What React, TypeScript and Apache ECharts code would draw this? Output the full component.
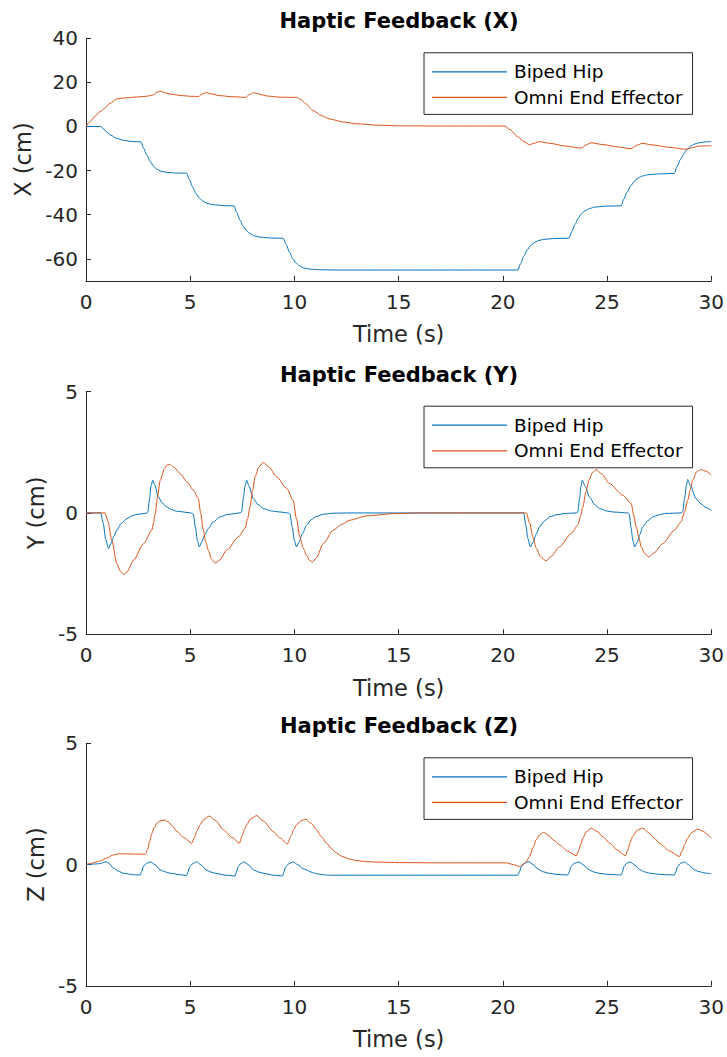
import React, { useEffect, useRef } from "react";
import * as echarts from "echarts";

const seriesNames = ["Biped Hip", "Omni End Effector"];
const titles = ["Haptic Feedback (X)", "Haptic Feedback (Y)", "Haptic Feedback (Z)"];
const yNames = ["X (cm)", "Y (cm)", "Z (cm)"];
const xName = "Time (s)";
const xTicks = [0, 5, 10, 15, 20, 25, 30];
const yTicksX = [-60, -40, -20, 0, 20, 40];
const yTicksYZ = [-5, 0, 5];
const yRanges = [[-70, 40], [-5, 5], [-5, 5]];

const hipX = [
  [0, 0], [0.71, 0], [0.85, -1.2], [1.0, -2.6], [1.2, -4.0], [1.45, -5.3], [1.8, -6.3], [2.2, -6.8], [2.63, -7.0],
  [2.76, -9.8], [2.92, -13], [3.08, -15.9], [3.24, -18], [3.4, -19.4], [3.6, -20.3], [3.88, -20.8], [4.3, -21.1], [4.83, -21.2],
  [4.96, -24], [5.12, -27.5], [5.28, -30.5], [5.44, -32.5], [5.6, -33.8], [5.8, -34.8], [6.1, -35.5], [6.6, -35.9], [7.1, -36],
  [7.23, -39], [7.39, -42.5], [7.55, -45.3], [7.71, -47.3], [7.87, -48.6], [8.07, -49.6], [8.35, -50.2], [8.9, -50.6], [9.46, -50.7],
  [9.6, -53.5], [9.76, -57], [9.92, -60], [10.08, -62], [10.25, -63.3], [10.45, -64.2], [10.75, -64.7], [11.2, -65], [12, -65.1], [20.72, -65.1],
  [20.85, -62.3], [21.0, -59], [21.17, -56], [21.33, -54], [21.5, -52.7], [21.7, -51.8], [21.95, -51.2], [22.5, -50.8], [23.17, -50.7],
  [23.3, -47.8], [23.46, -44.5], [23.62, -41.6], [23.78, -39.5], [23.95, -38.2], [24.15, -37.2], [24.45, -36.5], [25, -36.1], [25.68, -36],
  [25.8, -33], [25.96, -29.8], [26.13, -27], [26.29, -25], [26.45, -23.6], [26.65, -22.6], [26.95, -21.9], [27.5, -21.5], [28.23, -21.3],
  [28.35, -18.3], [28.52, -15], [28.7, -12.2], [28.85, -10.2], [29.0, -8.9], [29.2, -8.0], [29.4, -7.4], [29.7, -7.0], [30, -6.8],
];

const omniX = [
  [0, 0], [0.2, 2.2], [0.45, 4.8], [0.68, 6.8], [0.9, 8.3], [1.15, 10.5], [1.48, 12.5], [1.8, 12.9], [2.3, 13.3], [2.9, 13.7],
  [3.2, 14.2], [3.4, 15.5], [3.56, 16.1], [3.75, 15.4], [4.1, 14.6], [4.6, 14], [5.0, 13.7], [5.39, 13.6], [5.6, 14.8], [5.79, 15.4],
  [6.0, 14.8], [6.4, 14], [7.0, 13.5], [7.66, 13.2], [7.85, 14.5], [8.03, 15.3], [8.25, 14.8], [8.7, 13.8], [9.3, 13.3], [10.1, 13.2],
  [10.3, 12.3], [10.55, 10.2], [10.9, 7.2], [11.3, 4.9], [11.7, 3.4], [12.3, 2.1], [13, 1.2], [14, 0.6], [15, 0.3], [17, 0.2], [20.09, 0.2],
  [20.35, -1.5], [20.7, -4.5], [21.0, -6.8], [21.28, -8.3], [21.5, -7.6], [21.76, -6.9], [22.3, -7.7], [23.0, -8.9], [23.76, -9.8],
  [24.0, -8.3], [24.24, -7.4], [24.8, -8.2], [25.5, -9.3], [26.15, -10.1], [26.4, -8.6], [26.68, -7.7], [27.3, -8.5], [28.0, -9.5],
  [28.79, -10.3], [29.1, -9.6], [29.4, -8.9], [29.7, -8.8], [30, -8.7],
];

const hipY = [
  [0, 0], [0.71, 0], [0.82, -0.4], [0.95, -1.1], [1.08, -1.47], [1.2, -1.25], [1.35, -0.95], [1.48, -0.71], [1.7, -0.42], [1.96, -0.23],
  [2.2, -0.12], [2.44, -0.06], [2.92, -0.01], [2.97, 0.05], [3.05, 0.6], [3.12, 1.1], [3.2, 1.35], [3.3, 1.15], [3.47, 0.66], [3.65, 0.42],
  [3.87, 0.25], [4.1, 0.14], [4.35, 0.07], [4.99, 0.01], [5.15, -0.05], [5.25, -0.6], [5.35, -1.15], [5.44, -1.4], [5.55, -1.2], [5.7, -0.9],
  [5.87, -0.64], [6.1, -0.38], [6.43, -0.16], [6.8, -0.06], [7.39, 0], [7.47, 0.05], [7.55, 0.6], [7.63, 1.1], [7.71, 1.35], [7.82, 1.1],
  [8.03, 0.59], [8.25, 0.35], [8.51, 0.18], [8.9, 0.08], [9.31, 0.04], [9.71, 0], [9.79, -0.05], [9.9, -0.6], [10.0, -1.15], [10.1, -1.4],
  [10.22, -1.2], [10.38, -0.86], [10.58, -0.51], [10.8, -0.28], [11.06, -0.14], [11.4, -0.05], [11.86, -0.01], [12.5, 0], [21.0, 0],
  [21.1, -0.5], [21.2, -1.05], [21.32, -1.4], [21.45, -1.2], [21.6, -0.88], [21.76, -0.57], [22.0, -0.33], [22.24, -0.16], [22.6, -0.07],
  [23.04, -0.02], [23.52, 0], [23.6, 0.05], [23.68, 0.6], [23.75, 1.1], [23.81, 1.35], [23.95, 1.1], [24.16, 0.66], [24.4, 0.35],
  [24.64, 0.18], [25.0, 0.08], [25.28, 0.04], [26.0, 0], [26.06, -0.05], [26.15, -0.6], [26.24, -1.15], [26.32, -1.4], [26.45, -1.2],
  [26.58, -0.88], [26.71, -0.57], [26.95, -0.33], [27.19, -0.16], [27.5, -0.07], [27.83, -0.02], [28.55, 0], [28.63, 0.05], [28.72, 0.6],
  [28.8, 1.1], [28.87, 1.38], [29.0, 1.12], [29.27, 0.59], [29.5, 0.38], [29.75, 0.22], [30, 0.11],
];

const omniY = [
  [0, 0], [0.92, 0], [1.05, -0.35], [1.24, -1.13], [1.48, -2.09], [1.65, -2.4], [1.8, -2.53], [1.95, -2.45], [2.28, -1.95], [2.76, -1.27],
  [3.16, -0.71], [3.24, -0.4], [3.32, -0.03], [3.44, 0.7], [3.56, 1.35], [3.75, 1.8], [3.88, 1.97], [4.0, 2.01], [4.2, 1.9], [4.51, 1.63],
  [4.85, 1.28], [5.15, 0.94], [5.39, 0.59], [5.5, 0.0], [5.63, -0.71], [5.75, -1.2], [5.87, -1.54], [6.02, -1.9], [6.19, -2.07], [6.4, -1.95],
  [6.75, -1.54], [7.31, -0.99], [7.63, -0.64], [7.75, -0.25], [7.87, 0.25], [7.99, 0.9], [8.11, 1.49], [8.3, 1.9], [8.5, 2.08], [8.75, 1.92],
  [9.15, 1.49], [9.63, 1.01], [9.94, 0.52], [10.1, -0.25], [10.26, -0.99], [10.42, -1.45], [10.58, -1.74], [10.72, -1.95], [10.87, -2.02],
  [11.05, -1.85], [11.38, -1.27], [11.86, -0.71], [12.25, -0.48], [12.66, -0.3], [13.46, -0.12], [14.74, -0.03], [16, 0], [21.13, 0],
  [21.28, -0.4], [21.44, -0.99], [21.6, -1.45], [21.8, -1.8], [22.08, -1.98], [22.3, -1.8], [22.72, -1.4], [23.28, -0.85], [23.6, -0.5],
  [23.72, -0.15], [23.84, 0.25], [23.98, 0.85], [24.13, 1.35], [24.3, 1.67], [24.48, 1.79], [24.75, 1.6], [25.12, 1.21], [25.76, 0.73],
  [26.16, 0.39], [26.28, -0.1], [26.4, -0.57], [26.52, -1.0], [26.64, -1.4], [26.8, -1.67], [27.0, -1.82], [27.25, -1.65], [27.67, -1.27],
  [28.23, -0.71], [28.55, -0.37], [28.72, 0.05], [28.87, 0.52], [28.99, 0.95], [29.11, 1.35], [29.3, 1.7], [29.48, 1.79], [29.75, 1.72], [30, 1.56],
];

const hipZ = [
  [0, 0], [0.4, 0.02], [0.7, 0.04], [0.85, 0.09], [0.97, 0.11], [1.1, 0.05], [1.32, -0.15], [1.55, -0.27], [1.8, -0.36], [2.28, -0.42],
  [2.6, -0.43], [2.67, -0.3], [2.74, -0.08], [2.9, 0.05], [3.11, 0.11], [3.3, 0.0], [3.56, -0.22], [3.8, -0.3], [4.04, -0.36], [4.52, -0.42],
  [4.83, -0.45], [4.9, -0.3], [4.97, -0.1], [5.12, 0.04], [5.31, 0.11], [5.5, 0.0], [5.76, -0.22], [6.0, -0.31], [6.24, -0.37], [6.72, -0.44],
  [7.15, -0.47], [7.22, -0.3], [7.29, -0.1], [7.42, 0.04], [7.58, 0.11], [7.78, 0.0], [8.04, -0.22], [8.3, -0.31], [8.55, -0.37], [9.0, -0.44],
  [9.43, -0.47], [9.5, -0.3], [9.57, -0.1], [9.74, 0.04], [9.94, 0.11], [10.15, 0.0], [10.4, -0.16], [10.58, -0.22], [10.8, -0.31],
  [11.06, -0.38], [11.5, -0.43], [11.86, -0.44], [20.72, -0.44], [20.8, -0.3], [20.88, -0.1], [21.02, 0.05], [21.25, 0.12], [21.45, 0.0],
  [21.7, -0.2], [21.95, -0.3], [22.2, -0.36], [22.65, -0.41], [23.12, -0.43], [23.19, -0.3], [23.26, -0.1], [23.42, 0.05], [23.65, 0.11],
  [23.85, 0.0], [24.1, -0.2], [24.35, -0.3], [24.6, -0.36], [25.1, -0.41], [25.68, -0.43], [25.74, -0.3], [25.8, -0.1], [25.93, 0.05],
  [26.11, 0.11], [26.3, 0.0], [26.55, -0.2], [26.8, -0.3], [27.05, -0.36], [27.6, -0.41], [28.23, -0.43], [28.3, -0.3], [28.37, -0.1],
  [28.52, 0.05], [28.71, 0.11], [28.9, 0.0], [29.15, -0.2], [29.4, -0.29], [29.7, -0.35], [30, -0.38],
];

const omniZ = [
  [0, 0], [0.3, 0.06], [0.68, 0.15], [1.0, 0.27], [1.32, 0.4], [1.55, 0.44], [2.0, 0.44], [2.5, 0.43], [2.84, 0.42], [2.95, 0.6],
  [3.05, 0.95], [3.16, 1.29], [3.28, 1.53], [3.4, 1.71], [3.55, 1.8], [3.75, 1.84], [3.95, 1.76], [4.15, 1.58], [4.36, 1.36], [4.7, 1.11],
  [5.07, 0.88], [5.2, 1.1], [5.32, 1.38], [5.47, 1.64], [5.65, 1.86], [5.92, 2.0], [6.2, 1.83], [6.6, 1.43], [7.0, 1.12], [7.36, 0.88],
  [7.5, 1.2], [7.6, 1.45], [7.71, 1.64], [7.9, 1.88], [8.19, 2.02], [8.5, 1.8], [8.99, 1.36], [9.3, 1.1], [9.66, 0.85], [9.85, 1.2],
  [9.97, 1.45], [10.1, 1.64], [10.3, 1.8], [10.55, 1.87], [10.8, 1.7], [11.06, 1.43], [11.3, 1.15], [11.54, 0.88], [11.8, 0.64],
  [12.02, 0.47], [12.3, 0.33], [12.66, 0.22], [13.0, 0.16], [13.46, 0.12], [14, 0.1], [15.05, 0.08], [17, 0.07], [20.17, 0.07],
  [20.5, 0.0], [20.8, -0.08], [21.0, 0.02], [21.15, 0.15], [21.28, 0.33], [21.45, 0.7], [21.6, 1.02], [21.75, 1.22], [21.95, 1.33],
  [22.2, 1.2], [22.45, 1.0], [22.72, 0.81], [23.1, 0.56], [23.52, 0.36], [23.65, 0.6], [23.74, 0.85], [23.84, 1.09], [24.0, 1.35],
  [24.24, 1.5], [24.5, 1.38], [24.8, 1.15], [25.12, 0.88], [25.5, 0.6], [25.88, 0.36], [26.0, 0.6], [26.1, 0.9], [26.23, 1.16],
  [26.45, 1.42], [26.71, 1.5], [27.0, 1.32], [27.25, 1.1], [27.51, 0.88], [28.0, 0.56], [28.47, 0.33], [28.6, 0.55], [28.72, 0.82],
  [28.87, 1.09], [29.05, 1.32], [29.35, 1.46], [29.6, 1.38], [29.8, 1.25], [30, 1.09],
];

const panelData = [[hipX, omniX], [hipY, omniY], [hipZ, omniZ]];
const yTickSets = [yTicksX, yTicksYZ, yTicksYZ];

const FONT = "DejaVu Sans";
const AX = "#262626";
const COLORS = ["#0072BD", "#D95319"];
const GRID_TOPS = [38.3, 391.7, 743.3];
const GRID_H = 242.5;
const GRID_LEFT = 86;
const GRID_W = 626;
const Y_NAME_GAPS = [50, 38, 38];

export default function App() {
  const ref = useRef<HTMLDivElement>(null);
  useEffect(() => {
    if (!ref.current) return;
    const chart = echarts.init(ref.current, null, { renderer: "svg" });
    const grid: any[] = [];
    const xAxis: any[] = [];
    const yAxis: any[] = [];
    const title: any[] = [];
    const legend: any[] = [];
    const series: any[] = [];
    for (let i = 0; i < 3; i++) {
      const top = GRID_TOPS[i];
      grid.push({ left: GRID_LEFT, top, width: GRID_W, height: GRID_H, containLabel: false });
      xAxis.push({
        type: "value",
        gridIndex: i,
        min: 0,
        max: 30,
        interval: 5,
        name: xName,
        nameLocation: "middle",
        nameGap: 42,
        nameTextStyle: { fontFamily: FONT, fontSize: 22.5, color: AX },
        axisLine: { show: true, onZero: false, lineStyle: { color: AX, width: 1 } },
        axisTick: { show: true, inside: true, length: 5, lineStyle: { color: AX } },
        axisLabel: { fontFamily: FONT, fontSize: 20, color: AX, margin: 11, customValues: xTicks },
        splitLine: { show: false },
      });
      yAxis.push({
        type: "value",
        gridIndex: i,
        min: yRanges[i][0],
        max: yRanges[i][1],
        name: yNames[i],
        nameLocation: "middle",
        nameGap: Y_NAME_GAPS[i],
        nameTextStyle: { fontFamily: FONT, fontSize: 22.5, color: AX },
        axisLine: { show: true, lineStyle: { color: AX, width: 1 } },
        axisTick: { show: true, inside: true, length: 5, lineStyle: { color: AX }, customValues: yTickSets[i] },
        axisLabel: { fontFamily: FONT, fontSize: 20, color: AX, margin: 8, customValues: yTickSets[i] },
        splitLine: { show: false },
      });
      title.push({
        text: titles[i],
        left: GRID_LEFT + GRID_W / 2,
        textAlign: "center",
        top: top - 29,
        padding: 0,
        textStyle: { fontFamily: FONT, fontSize: 21, fontWeight: "bold", color: "#000", lineHeight: 24 },
      });
      legend.push({
        data: seriesNames.map((n) => n),
        orient: "vertical",
        left: 424,
        top: top + 14.5,
        padding: [9, 10, 7, 8],
        itemGap: 5.6,
        icon: "rect",
        itemWidth: 75,
        itemHeight: 1.3,
        borderColor: AX,
        borderWidth: 1,
        borderRadius: 0,
        backgroundColor: "#fff",
        selectedMode: false,
        textStyle: { fontFamily: FONT, fontSize: 18.5, color: "#000", lineHeight: 20, padding: [0, 0, 0, 2] },
      });
      for (let s = 0; s < 2; s++) {
        series.push({
          type: "line",
          name: seriesNames[s],
          xAxisIndex: i,
          yAxisIndex: i,
          data: panelData[i][s],
          showSymbol: false,
          symbol: "none",
          smooth: 0.25,
          smoothMonotone: "x",
          lineStyle: { color: COLORS[s], width: 1 },
          itemStyle: { color: COLORS[s] },
          z: 2 + s,
        });
      }
    }
    chart.setOption({
      animation: false,
      backgroundColor: "#fff",
      grid,
      xAxis,
      yAxis,
      title,
      legend,
      series,
    });
    return () => chart.dispose();
  }, []);
  return (
    <div
      ref={ref}
      style={{ position: "fixed", left: 0, top: 0, width: 727, height: 1057, background: "#fff" }}
    />
  );
}
